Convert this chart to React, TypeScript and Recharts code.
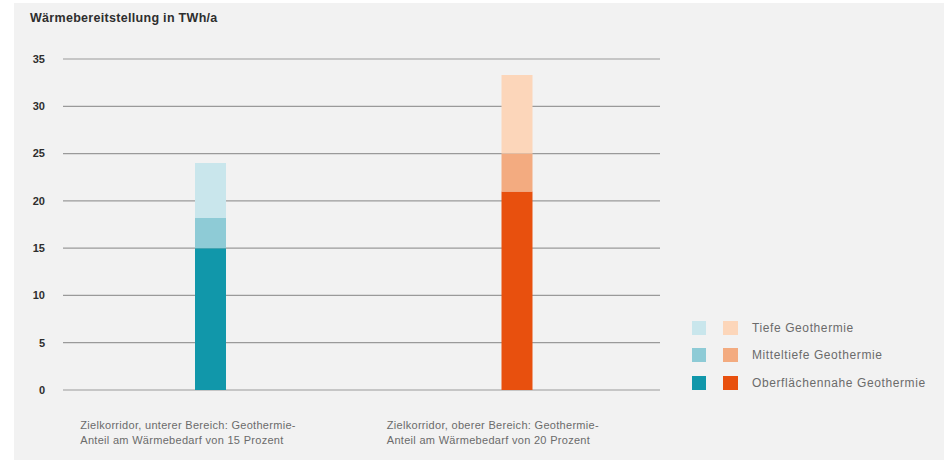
import React from 'react'
import { BarChart, Bar, XAxis, YAxis, CartesianGrid, Cell } from 'recharts'

const categories = [
  ['Zielkorridor, unterer Bereich: Geothermie-', 'Anteil am Wärmebedarf von 15 Prozent'],
  ['Zielkorridor, oberer Bereich: Geothermie-', 'Anteil am Wärmebedarf von 20 Prozent'],
]
const oberflaechennah = [15, 21]
const mitteltief = [3.2, 4]
const tief = [5.8, 8.3]
const yTicks = [0, 5, 10, 15, 20, 25, 30, 35]

const seriesNames = ['Tiefe Geothermie', 'Mitteltiefe Geothermie', 'Oberflächennahe Geothermie']
const tealColors = ['#c9e6ec', '#8ecbd6', '#1197aa']
const orangeColors = ['#fcd6ba', '#f3ab80', '#e8500e']

const data = categories.map((lines, i) => ({
  name: lines.join(' '),
  oberflaechennah: oberflaechennah[i],
  mitteltief: mitteltief[i],
  tief: tief[i],
}))

const font = '"Liberation Sans", Arial, sans-serif'

function CategoryTick(props: any) {
  const { x, y, index } = props
  const lines = categories[index]
  return (
    <text
      x={x - 130}
      y={y}
      fontSize={11}
      letterSpacing={0.3}
      fill="#6b6b6b"
      fontFamily={font}
      textAnchor="start"
    >
      <tspan x={x - 130} dy={39}>{lines[0]}</tspan>
      <tspan x={x - 130} dy={15}>{lines[1]}</tspan>
    </text>
  )
}

function LegendBox() {
  return (
    <div style={{ position: 'absolute', left: 664, top: 311, fontFamily: font }}>
      {seriesNames.map((name, i) => (
        <div key={name} style={{ display: 'flex', alignItems: 'center', height: 27.5 }}>
          <div style={{ width: 14, height: 14, background: tealColors[i], marginLeft: 14 }} />
          <div style={{ width: 15, height: 14, background: orangeColors[i], marginLeft: 17 }} />
          <span style={{ marginLeft: 14, fontSize: 12, letterSpacing: 0.6, color: '#6b6b6b' }}>{name}</span>
        </div>
      ))}
    </div>
  )
}

export default function App() {
  return (
    <div style={{ position: 'absolute', left: 0, top: 0, width: 944, height: 460, background: '#ffffff' }}>
      <div style={{ position: 'absolute', left: 14, top: 3, width: 930, height: 457, background: '#f2f2f2' }}>
        <div
          style={{
            position: 'absolute',
            left: 16,
            top: 8,
            fontFamily: font,
            fontWeight: 700,
            fontSize: 12.5,
            letterSpacing: 0.3,
            color: '#2e2e2e',
          }}
        >
          Wärmebereitstellung in TWh/a
        </div>
        <BarChart
          width={930}
          height={457}
          data={data}
          margin={{ top: 56, right: 284, left: 0, bottom: 0 }}
          barSize={31}
        >
          <CartesianGrid horizontal vertical={false} stroke="#9a9a9a" strokeWidth={1.2} />
          <XAxis
            dataKey="name"
            axisLine={false}
            tickLine={false}
            tickSize={0}
            tickMargin={0}
            height={70}
            interval={0}
            padding={{ left: -6, right: -10 }}
            tick={<CategoryTick />}
          />
          <YAxis
            width={49}
            domain={[0, 35]}
            ticks={yTicks}
            axisLine={false}
            tickLine={false}
            tickSize={0}
            tickMargin={18}
            tick={{ fontSize: 11, fontWeight: 700, fill: '#2e2e2e', fontFamily: font }}
          />
          <Bar dataKey="oberflaechennah" stackId="a" isAnimationActive={false}>
            {data.map((d, i) => (
              <Cell key={d.name} fill={i === 0 ? tealColors[2] : orangeColors[2]} />
            ))}
          </Bar>
          <Bar dataKey="mitteltief" stackId="a" isAnimationActive={false}>
            {data.map((d, i) => (
              <Cell key={d.name} fill={i === 0 ? tealColors[1] : orangeColors[1]} />
            ))}
          </Bar>
          <Bar dataKey="tief" stackId="a" isAnimationActive={false}>
            {data.map((d, i) => (
              <Cell key={d.name} fill={i === 0 ? tealColors[0] : orangeColors[0]} />
            ))}
          </Bar>
        </BarChart>
        <LegendBox />
      </div>
    </div>
  )
}
